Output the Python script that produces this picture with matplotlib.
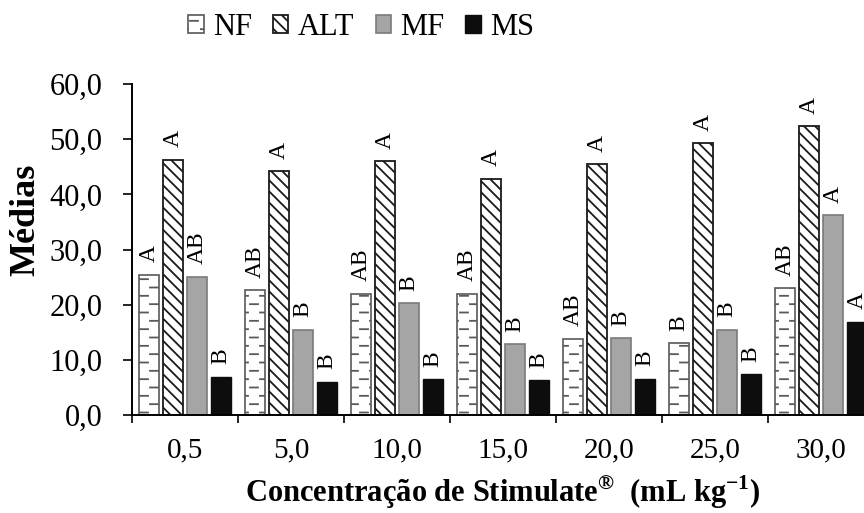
import numpy as np
import matplotlib
matplotlib.use("Agg")
import matplotlib.pyplot as plt
import matplotlib.hatch as mhatch
from matplotlib.path import Path

# --------- DADOS ----------
concentracoes = ["0,5", "5,0", "10,0", "15,0", "20,0", "25,0", "30,0"]
series = ["NF", "ALT", "MF", "MS"]

nf = [25.4, 22.6, 22.0, 22.0, 13.8, 13.0, 23.0]
alt = [46.3, 44.2, 46.0, 42.8, 45.5, 49.3, 52.4]
mf = [25.1, 15.5, 20.3, 12.8, 13.9, 15.5, 36.2]
ms = [6.9, 6.0, 6.5, 6.3, 6.6, 7.4, 16.9]

letras_nf = ["A", "AB", "AB", "AB", "AB", "B", "AB"]
letras_alt = ["A", "A", "A", "A", "A", "A", "A"]
letras_mf = ["AB", "B", "B", "B", "B", "B", "A"]
letras_ms = ["B", "B", "B", "B", "B", "B", "A"]

yticks = [0, 10, 20, 30, 40, 50, 60]


# --------- HACHURA "tracejado" (tracos curtos alternados) ----------
class TracosHatch(mhatch.HatchPatternBase):
    def __init__(self, hatch, density):
        self.n_lin = hatch.count("-") * density
        self.n_col = 5
        self.num_vertices = self.n_lin * self.n_col * 2

    def set_vertices_and_codes(self, vertices, codes):
        k = 0
        for i in range(self.n_lin):
            y = (i + 0.5) / self.n_lin
            desl = (i % 2) * 0.5 / self.n_col
            for j in range(self.n_col):
                x0 = j / self.n_col + desl
                vertices[k] = (x0, y)
                vertices[k + 1] = (x0 + 0.08, y)
                codes[k] = Path.MOVETO
                codes[k + 1] = Path.LINETO
                k += 2


# troca a hachura horizontal padrao pela de tracos
mhatch._hatch_types[mhatch._hatch_types.index(mhatch.HorizontalHatch)] = TracosHatch

plt.rcParams["font.family"] = "Liberation Serif"
plt.rcParams["mathtext.fontset"] = "custom"
plt.rcParams["mathtext.rm"] = "Liberation Serif:bold"
plt.rcParams["mathtext.bf"] = "Liberation Serif:bold"
plt.rcParams["hatch.linewidth"] = 1.3

fig = plt.figure(figsize=(8.64, 5.13), dpi=100)
ax = fig.add_axes([0.1528, 0.191, 0.8588, 0.645])

x = np.arange(len(concentracoes)) + 0.5
passo = 0.226
largura = 0.19

estilos = [
    dict(facecolor="white", edgecolor="#595959", hatch="--", linewidth=1.2),
    dict(facecolor="white", edgecolor="#1a1a1a", hatch="\\\\\\", linewidth=1.3),
    dict(facecolor="#a5a5a5", edgecolor="#7a7a7a", linewidth=1.2),
    dict(facecolor="#0d0d0d", edgecolor="#0d0d0d", linewidth=1.0),
]
valores = [nf, alt, mf, ms]
letras = [letras_nf, letras_alt, letras_mf, letras_ms]

barras = []
for i, (nome, vals, est, let) in enumerate(zip(series, valores, estilos, letras)):
    xs = x + (i - 1.5) * passo
    b = ax.bar(xs, vals, width=largura, label=nome, zorder=2, **est)
    barras.append(b)
    for xi, v, l in zip(xs, vals, let):
        ax.annotate(l, (xi, v), xytext=(0, 9), textcoords="offset points",
                    rotation=90, ha="center", va="bottom", fontsize=17)

# eixos
ax.set_xlim(0, len(concentracoes))
ax.set_ylim(0, 60)
ax.set_yticks(yticks)
ax.set_yticklabels([f"{v:.1f}".replace(".", ",") for v in yticks], fontsize=22)
ax.set_xticks(np.arange(len(concentracoes) + 1))
ax.set_xticklabels([])
ax.set_xticks(x, minor=True)
ax.set_xticklabels(concentracoes, minor=True, fontsize=21)
ax.tick_params(axis="x", which="minor", length=0, pad=16)
ax.tick_params(axis="x", which="major", length=6, width=1.2, direction="out")
ax.tick_params(axis="y", length=6.5, width=1.2, pad=15)

for s in ["top", "right"]:
    ax.spines[s].set_visible(False)
ax.spines["left"].set_linewidth(1.4)
ax.spines["bottom"].set_linewidth(1.4)

ax.set_ylabel("Médias", fontsize=26, fontweight="bold")
ax.yaxis.set_label_coords(-0.143, 0.59)
ax.yaxis.label.set_va("center")
ax.set_xlabel("Concentração de Stimulate$^{®}$  (mL kg$^{-1}$)",
              fontsize=22, fontweight="bold")
ax.xaxis.set_label_coords(0.5, -0.232)
ax.xaxis.label.set_va("center")

fig.legend(barras, series, loc="center", bbox_to_anchor=(0.418, 0.947), ncol=4,
           frameon=False, fontsize=22, handlelength=0.5, handleheight=0.55,
           handletextpad=0.3, columnspacing=0.7, borderpad=0, borderaxespad=0)

fig.savefig("out.png", dpi=100, facecolor="white")
